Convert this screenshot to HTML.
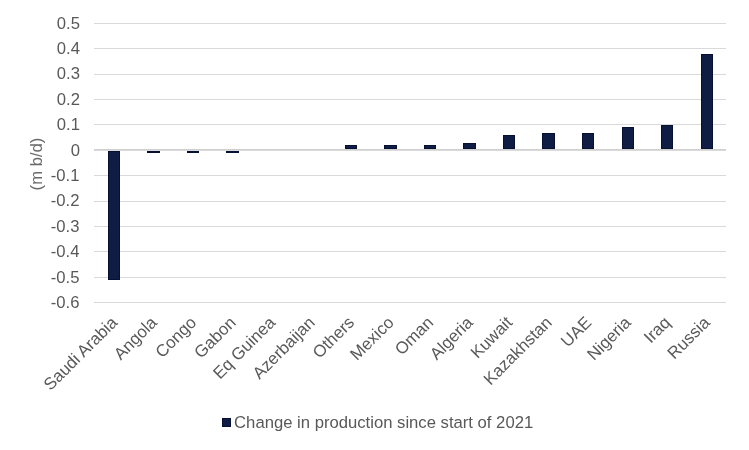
<!DOCTYPE html><html><head><meta charset="utf-8"><style>html,body{margin:0;padding:0;background:#fff;width:749px;height:450px;overflow:hidden}svg{display:block;will-change:transform}text{font-family:"Liberation Sans",Arial,sans-serif;}</style></head><body>
<svg width="749" height="450" viewBox="0 0 749 450">
<rect x="0" y="0" width="749" height="450" fill="#fff"/>
<rect x="94" y="23" width="632" height="1" fill="#d9d9d9"/>
<rect x="94" y="48" width="632" height="1" fill="#d9d9d9"/>
<rect x="94" y="74" width="632" height="1" fill="#d9d9d9"/>
<rect x="94" y="99" width="632" height="1" fill="#d9d9d9"/>
<rect x="94" y="124" width="632" height="1" fill="#d9d9d9"/>
<rect x="94" y="175" width="632" height="1" fill="#d9d9d9"/>
<rect x="94" y="201" width="632" height="1" fill="#d9d9d9"/>
<rect x="94" y="226" width="632" height="1" fill="#d9d9d9"/>
<rect x="94" y="251" width="632" height="1" fill="#d9d9d9"/>
<rect x="94" y="277" width="632" height="1" fill="#d9d9d9"/>
<rect x="94" y="302" width="632" height="1" fill="#d9d9d9"/>
<rect x="108" y="151" width="12" height="129" fill="#061033"/>
<rect x="109" y="152" width="10" height="127" fill="#0f1c44"/>
<rect x="147" y="151" width="13" height="2" fill="#061033"/>
<rect x="187" y="151" width="12" height="2" fill="#061033"/>
<rect x="226" y="151" width="13" height="2" fill="#061033"/>
<rect x="345" y="145" width="12" height="4" fill="#061033"/>
<rect x="346" y="146" width="10" height="2" fill="#0f1c44"/>
<rect x="384" y="145" width="13" height="4" fill="#061033"/>
<rect x="385" y="146" width="11" height="2" fill="#0f1c44"/>
<rect x="424" y="145" width="12" height="4" fill="#061033"/>
<rect x="425" y="146" width="10" height="2" fill="#0f1c44"/>
<rect x="463" y="143" width="13" height="6" fill="#061033"/>
<rect x="464" y="144" width="11" height="4" fill="#0f1c44"/>
<rect x="503" y="135" width="12" height="14" fill="#061033"/>
<rect x="504" y="136" width="10" height="12" fill="#0f1c44"/>
<rect x="542" y="133" width="13" height="16" fill="#061033"/>
<rect x="543" y="134" width="11" height="14" fill="#0f1c44"/>
<rect x="582" y="133" width="12" height="16" fill="#061033"/>
<rect x="583" y="134" width="10" height="14" fill="#0f1c44"/>
<rect x="622" y="127" width="12" height="22" fill="#061033"/>
<rect x="623" y="128" width="10" height="20" fill="#0f1c44"/>
<rect x="661" y="125" width="12" height="24" fill="#061033"/>
<rect x="662" y="126" width="10" height="22" fill="#0f1c44"/>
<rect x="701" y="54" width="12" height="95" fill="#061033"/>
<rect x="702" y="55" width="10" height="93" fill="#0f1c44"/>
<defs><pattern id="zp" x="0" y="0" width="2" height="1" patternUnits="userSpaceOnUse"><rect x="0" y="0" width="1" height="1" fill="#c8c8c8"/><rect x="1" y="0" width="1" height="1" fill="#d6d6d6"/></pattern></defs>
<rect x="94" y="149" width="632" height="1" fill="url(#zp)"/>
<rect x="94" y="150" width="632" height="1" fill="#dadada"/>
<text x="80" y="29" font-size="16.67" fill="#595959" text-anchor="end">0.5</text>
<text x="80" y="54" font-size="16.67" fill="#595959" text-anchor="end">0.4</text>
<text x="80" y="79" font-size="16.67" fill="#595959" text-anchor="end">0.3</text>
<text x="80" y="105" font-size="16.67" fill="#595959" text-anchor="end">0.2</text>
<text x="80" y="130" font-size="16.67" fill="#595959" text-anchor="end">0.1</text>
<text x="80" y="156" font-size="16.67" fill="#595959" text-anchor="end">0</text>
<text x="79.4" y="181" font-size="16.67" fill="#595959" text-anchor="end">-0.1</text>
<text x="79.4" y="206" font-size="16.67" fill="#595959" text-anchor="end">-0.2</text>
<text x="79.4" y="232" font-size="16.67" fill="#595959" text-anchor="end">-0.3</text>
<text x="79.4" y="257" font-size="16.67" fill="#595959" text-anchor="end">-0.4</text>
<text x="79.4" y="283" font-size="16.67" fill="#595959" text-anchor="end">-0.5</text>
<text x="79.4" y="308" font-size="16.67" fill="#595959" text-anchor="end">-0.6</text>
<text transform="translate(42,164) rotate(-90)" font-size="16.67" fill="#6a6a6a" text-anchor="middle">(m b/d)</text>
<text transform="translate(118.35,323.5) rotate(-45)" font-size="16.9" fill="#595959" text-anchor="end">Saudi Arabia</text>
<text transform="translate(157.85,323.5) rotate(-45)" font-size="16.9" fill="#595959" text-anchor="end">Angola</text>
<text transform="translate(197.35,323.5) rotate(-45)" font-size="16.9" fill="#595959" text-anchor="end">Congo</text>
<text transform="translate(236.85,323.5) rotate(-45)" font-size="16.9" fill="#595959" text-anchor="end">Gabon</text>
<text transform="translate(276.35,323.5) rotate(-45)" font-size="16.9" fill="#595959" text-anchor="end">Eq Guinea</text>
<text transform="translate(315.85,323.5) rotate(-45)" font-size="16.9" fill="#595959" text-anchor="end">Azerbaijan</text>
<text transform="translate(355.35,323.5) rotate(-45)" font-size="16.9" fill="#595959" text-anchor="end">Others</text>
<text transform="translate(394.85,323.5) rotate(-45)" font-size="16.9" fill="#595959" text-anchor="end">Mexico</text>
<text transform="translate(434.35,323.5) rotate(-45)" font-size="16.9" fill="#595959" text-anchor="end">Oman</text>
<text transform="translate(473.85,323.5) rotate(-45)" font-size="16.9" fill="#595959" text-anchor="end">Algeria</text>
<text transform="translate(513.35,323.5) rotate(-45)" font-size="16.9" fill="#595959" text-anchor="end">Kuwait</text>
<text transform="translate(552.85,323.5) rotate(-45)" font-size="16.9" fill="#595959" text-anchor="end">Kazakhstan</text>
<text transform="translate(592.35,323.5) rotate(-45)" font-size="16.9" fill="#595959" text-anchor="end">UAE</text>
<text transform="translate(631.85,323.5) rotate(-45)" font-size="16.9" fill="#595959" text-anchor="end">Nigeria</text>
<text transform="translate(671.35,323.5) rotate(-45)" font-size="16.9" fill="#595959" text-anchor="end">Iraq</text>
<text transform="translate(710.85,323.5) rotate(-45)" font-size="16.9" fill="#595959" text-anchor="end">Russia</text>
<rect x="222" y="418" width="9" height="9" fill="#061033"/>
<rect x="223" y="419" width="7" height="7" fill="#0f1c44"/>
<text x="234.1" y="428" font-size="16.67" fill="#595959">Change in production since start of 2021</text>
</svg></body></html>
